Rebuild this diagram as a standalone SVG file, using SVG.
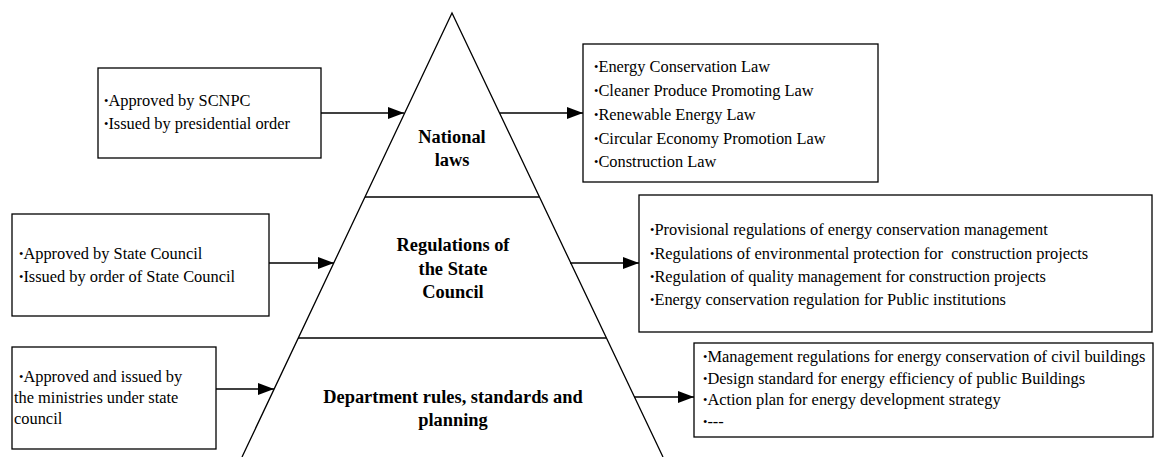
<svg xmlns="http://www.w3.org/2000/svg" width="1161" height="457" viewBox="0 0 1161 457">
<style>
.box{fill:#fff;stroke:#000;stroke-width:1.3}
.ln{fill:none;stroke:#000;stroke-width:1.3}
.t{font-family:"Liberation Serif","Times New Roman",serif;font-size:16.4px;fill:#000;white-space:pre}
.h{font-family:"Liberation Serif","Times New Roman",serif;font-size:18.4px;font-weight:bold;fill:#000;text-anchor:middle}
.b{font-size:12.5px;baseline-shift:1.5px}
</style>
<defs>
<marker id="ah" markerUnits="userSpaceOnUse" markerWidth="16" markerHeight="12" refX="16" refY="6" orient="auto">
<path d="M0,0 L16,6 L0,12 z" fill="#000"/>
</marker>
</defs>
<g id="pyramid">
<path class="ln" d="M242,457 L452,13 L663,457"/>
<line class="ln" x1="365" y1="197" x2="539" y2="197"/>
<line class="ln" x1="298" y1="338" x2="606" y2="338"/>
</g>
<g id="level1">
<text class="h" x="452" y="143">National</text>
<text class="h" x="452" y="166">laws</text>
</g>
<g id="level2">
<text class="h" x="453" y="251">Regulations of</text>
<text class="h" x="453" y="275">the State</text>
<text class="h" x="453" y="298">Council</text>
</g>
<g id="level3">
<text class="h" x="453" y="403">Department rules, standards and</text>
<text class="h" x="453" y="426">planning</text>
</g>
<g id="left1">
<rect class="box" x="98" y="68" width="223" height="90"/>
<text class="t" x="104" y="106"><tspan class="b">•</tspan>Approved by SCNPC</text>
<text class="t" x="104" y="129"><tspan class="b">•</tspan>Issued by presidential order</text>
</g>
<g id="left2">
<rect class="box" x="12" y="214" width="257" height="102"/>
<text class="t" x="19" y="259"><tspan class="b">•</tspan>Approved by State Council</text>
<text class="t" x="19" y="282"><tspan class="b">•</tspan>Issued by order of State Council</text>
</g>
<g id="left3">
<rect class="box" x="12" y="347" width="204" height="102"/>
<text class="t" x="19" y="382"><tspan class="b">•</tspan>Approved and issued by</text>
<text class="t" x="14" y="403">the ministries under state</text>
<text class="t" x="14" y="424">council</text>
</g>
<g id="right1">
<rect class="box" x="583" y="44" width="295" height="138"/>
<text class="t" x="594" y="72"><tspan class="b">•</tspan>Energy Conservation Law</text>
<text class="t" x="594" y="96"><tspan class="b">•</tspan>Cleaner Produce Promoting Law</text>
<text class="t" x="594" y="120"><tspan class="b">•</tspan>Renewable Energy Law</text>
<text class="t" x="594" y="144"><tspan class="b">•</tspan>Circular Economy Promotion Law</text>
<text class="t" x="594" y="167"><tspan class="b">•</tspan>Construction Law</text>
</g>
<g id="right2">
<rect class="box" x="639" y="195" width="513" height="137"/>
<text class="t" x="650" y="235"><tspan class="b">•</tspan>Provisional regulations of energy conservation management</text>
<text class="t" x="650" y="259" xml:space="preserve"><tspan class="b">•</tspan>Regulations of environmental protection for  construction projects</text>
<text class="t" x="650" y="282"><tspan class="b">•</tspan>Regulation of quality management for construction projects</text>
<text class="t" x="650" y="305"><tspan class="b">•</tspan>Energy conservation regulation for Public institutions</text>
</g>
<g id="right3">
<rect class="box" x="694" y="343" width="459" height="94"/>
<text class="t" x="703" y="362"><tspan class="b">•</tspan>Management regulations for energy conservation of civil buildings</text>
<text class="t" x="703" y="384"><tspan class="b">•</tspan>Design standard for energy efficiency of public Buildings</text>
<text class="t" x="703" y="405"><tspan class="b">•</tspan>Action plan for energy development strategy</text>
<text class="t" x="703" y="427"><tspan class="b">•</tspan>---</text>
</g>
<g id="connectors">
<line class="ln" x1="321" y1="113" x2="404" y2="113" marker-end="url(#ah)"/>
<line class="ln" x1="500" y1="113" x2="583" y2="113" marker-end="url(#ah)"/>
<line class="ln" x1="269" y1="263" x2="334" y2="263" marker-end="url(#ah)"/>
<line class="ln" x1="570" y1="263" x2="639" y2="263" marker-end="url(#ah)"/>
<line class="ln" x1="216" y1="389" x2="274" y2="389" marker-end="url(#ah)"/>
<line class="ln" x1="634" y1="397" x2="694" y2="397" marker-end="url(#ah)"/>
</g>
</svg>
